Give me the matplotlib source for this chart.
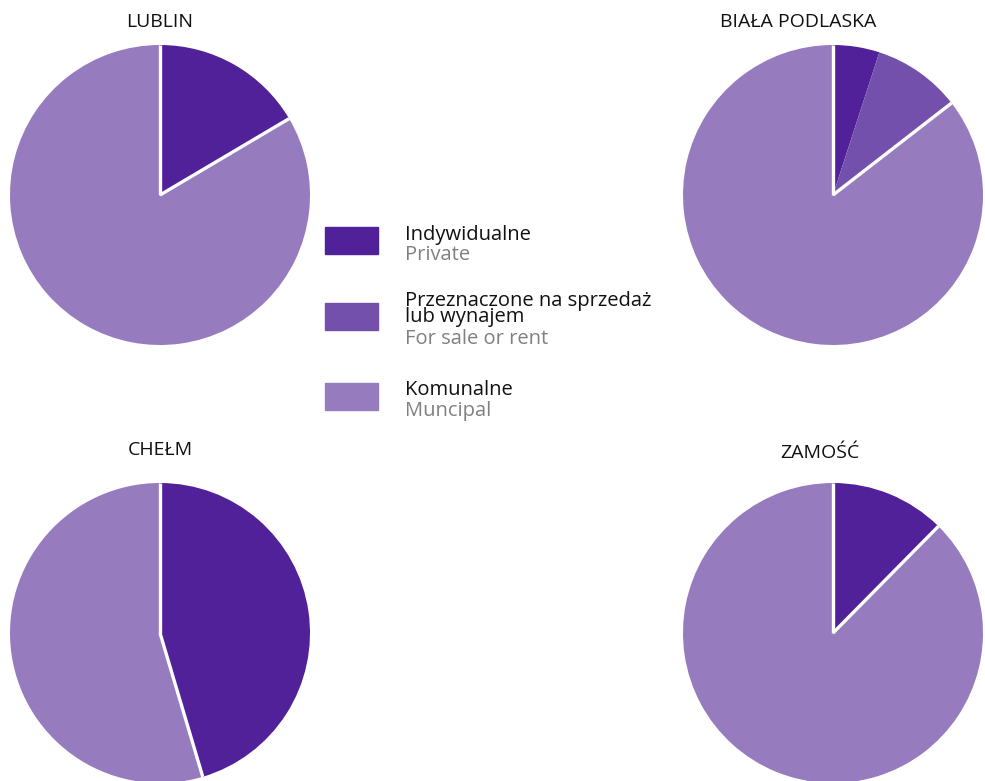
import numpy as np
import matplotlib.pyplot as plt

plt.rcParams['font.family'] = ['Open Sans', 'DejaVu Sans']

cities = ['LUBLIN', 'BIAŁA PODLASKA', 'CHEŁM', 'ZAMOŚĆ']
private = [16.5, 5.0, 45.4, 12.4]
for_sale = [0.0, 9.5, 0.0, 0.0]
municipal = [100 - p - s for p, s in zip(private, for_sale)]

colors = ['#51219a', '#7450ad', '#967cbf']
legend_pl = ['Indywidualne', 'Przeznaczone na sprzedaż\nlub wynajem', 'Komunalne']
legend_en = ['Private', 'For sale or rent', 'Muncipal']

W, H = 985, 781
fig = plt.figure(figsize=(W / 100, H / 100), dpi=100)

# pie centres (px), radius and title positions
centres = [(160, 195), (833, 195), (160, 633), (833, 633)]
titles_xy = [(160, 22), (798, 22), (160, 450), (820, 453)]
R = 150

for i in range(4):
    cx, cy = centres[i]
    ax = fig.add_axes([(cx - R) / W, 1 - (cy + R) / H, 2 * R / W, 2 * R / H])
    vals = [private[i], for_sale[i], municipal[i]]
    ax.pie(vals, colors=colors, startangle=90, counterclock=False,
           wedgeprops=dict(linewidth=0, antialiased=True))
    # white separators at the top and before the municipal slice
    for a in [90, 90 - 360 * (private[i] + for_sale[i]) / 100]:
        t = np.deg2rad(a)
        ax.plot([0, np.cos(t)], [0, np.sin(t)], color='white', lw=2.4, solid_capstyle='butt')
    ax.set_xlim(-1, 1)
    ax.set_ylim(-1, 1)
    ax.axis('off')
    tx, ty = titles_xy[i]
    fig.text(tx / W, 1 - ty / H, cities[i], ha='center', va='center', fontsize=14, color='#111111')

# legend
box_y = [227, 303, 383]
pl_y = [235, 309, 390]
en_y = [255, 339, 411]
for i in range(3):
    fig.patches.append(plt.Rectangle((325 / W, 1 - (box_y[i] + 27) / H), 53 / W, 27 / H,
                                     transform=fig.transFigure, color=colors[i]))
    fig.text(405 / W, 1 - pl_y[i] / H, legend_pl[i], ha='left', va='center',
             fontsize=14.5, color='#111111', linespacing=0.72)
    fig.text(405 / W, 1 - en_y[i] / H, legend_en[i], ha='left', va='center', fontsize=14.5, color='#808080')

fig.savefig('out.png', dpi=100)
